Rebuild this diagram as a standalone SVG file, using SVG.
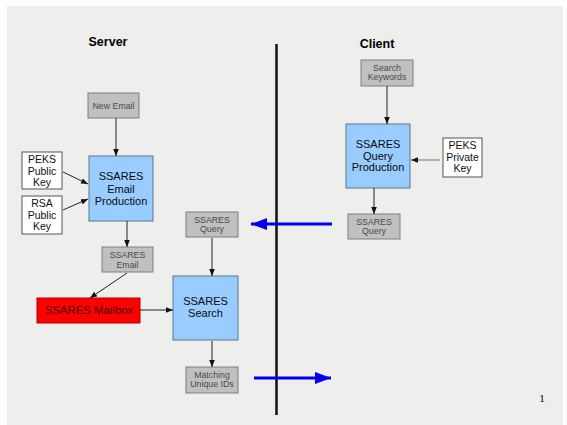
<svg xmlns="http://www.w3.org/2000/svg" width="567" height="425" viewBox="0 0 567 425">
  <defs>
    <marker id="ah" viewBox="0 0 10 10" refX="10" refY="5" markerWidth="7" markerHeight="7" markerUnits="userSpaceOnUse" orient="auto">
      <path d="M0,1 L10,5 L0,9 z" fill="#111"/>
    </marker>
    <marker id="bh" viewBox="0 0 16 12" refX="16" refY="6" markerWidth="16" markerHeight="12" markerUnits="userSpaceOnUse" orient="auto">
      <path d="M0,0 L16,6 L0,12 z" fill="#0000ee"/>
    </marker>
    <style>
      .bg { fill: #eeeeec; }
      .gray { fill: #c0c0c0; stroke: #7f7f7f; stroke-width: 1; }
      .blue { fill: #99ccff; stroke: #5b7590; stroke-width: 1; }
      .white { fill: #ffffff; stroke: #555; stroke-width: 1; }
      .red { fill: #ff0000; stroke: #b00000; stroke-width: 1; }
      text { font-family: "Liberation Sans", Arial, sans-serif; text-anchor: middle; }
      .small { font-size: 8.8px; fill: #4a4a4a; }
      .mid { font-size: 10.5px; fill: #111; }
      .big { font-size: 11px; fill: #0a0a0a; }
      .head { font-size: 12.5px; font-weight: bold; fill: #000; }
      .conn { stroke: #222; stroke-width: 1; fill: none; marker-end: url(#ah); }
      .flow { stroke: #0000ee; stroke-width: 3; fill: none; marker-end: url(#bh); }
    </style>
  </defs>

  <rect class="bg" x="7" y="6" width="556" height="419"/>

  <text class="head" x="108" y="46">Server</text>
  <text class="head" x="377" y="48">Client</text>

  <!-- divider between server and client -->
  <line x1="276.5" y1="44" x2="276.5" y2="415" stroke="#111" stroke-width="2.5"/>

  <g id="new-email">
    <rect class="gray" x="88" y="93" width="51" height="25"/>
    <text class="small" x="113.5" y="108.5">New Email</text>
  </g>

  <g id="email-production">
    <rect class="blue" x="89" y="156" width="64" height="65"/>
    <text class="big" x="121" y="180">SSARES</text>
    <text class="big" x="121" y="192.5">Email</text>
    <text class="big" x="121" y="204.5">Production</text>
  </g>

  <g id="peks-public-key">
    <rect class="white" x="22" y="152" width="40" height="37"/>
    <text class="mid" x="42" y="163">PEKS</text>
    <text class="mid" x="42" y="175">Public</text>
    <text class="mid" x="42" y="186">Key</text>
  </g>

  <g id="rsa-public-key">
    <rect class="white" x="22" y="196" width="40" height="38"/>
    <text class="mid" x="42" y="207">RSA</text>
    <text class="mid" x="42" y="219">Public</text>
    <text class="mid" x="42" y="230">Key</text>
  </g>

  <g id="ssares-email">
    <rect class="gray" x="102" y="247" width="51" height="25"/>
    <text class="small" x="127.5" y="257.5">SSARES</text>
    <text class="small" x="127.5" y="267.5">Email</text>
  </g>

  <g id="ssares-mailbox">
    <rect class="red" x="37" y="298" width="103" height="25"/>
    <text x="89" y="314" style="font-size:11.4px; fill:#4a0000;">SSARES Mailbox</text>
  </g>

  <g id="server-query">
    <rect class="gray" x="186" y="212" width="52" height="25"/>
    <text class="small" x="212" y="222.5">SSARES</text>
    <text class="small" x="212" y="232">Query</text>
  </g>

  <g id="ssares-search">
    <rect class="blue" x="173" y="276" width="65" height="64"/>
    <text class="big" x="205.5" y="304.5">SSARES</text>
    <text class="big" x="205.5" y="316.5">Search</text>
  </g>

  <g id="matching-ids">
    <rect class="gray" x="186" y="367" width="52" height="26"/>
    <text class="small" x="212" y="377.5">Matching</text>
    <text class="small" x="212" y="386.5">Unique IDs</text>
  </g>

  <g id="search-keywords">
    <rect class="gray" x="361" y="60" width="52" height="26"/>
    <text class="small" x="387" y="71">Search</text>
    <text class="small" x="387" y="80">Keywords</text>
  </g>

  <g id="query-production">
    <rect class="blue" x="346" y="124" width="64" height="64"/>
    <text class="big" x="378" y="148">SSARES</text>
    <text class="big" x="378" y="159.5">Query</text>
    <text class="big" x="378" y="171">Production</text>
  </g>

  <g id="peks-private-key">
    <rect class="white" x="443" y="138" width="39" height="39"/>
    <text class="mid" x="462.5" y="149">PEKS</text>
    <text class="mid" x="462.5" y="160.5">Private</text>
    <text class="mid" x="462.5" y="171.5">Key</text>
  </g>

  <g id="client-query">
    <rect class="gray" x="348" y="214" width="52" height="25"/>
    <text class="small" x="374" y="224.5">SSARES</text>
    <text class="small" x="374" y="233.5">Query</text>
  </g>

  <text x="542" y="402" style="font-family:'Liberation Serif', serif; font-size:11px; fill:#000;">1</text>

  <g id="connectors">
    <line class="conn" x1="116" y1="118" x2="116" y2="156"/>
    <line class="conn" x1="63" y1="172" x2="88" y2="184"/>
    <line class="conn" x1="63" y1="210" x2="88" y2="199"/>
    <line class="conn" x1="127" y1="221" x2="127" y2="247"/>
    <line class="conn" x1="127" y1="273" x2="90" y2="298"/>
    <line class="conn" x1="140" y1="310" x2="173" y2="310"/>
    <line class="conn" x1="212" y1="238" x2="212" y2="276"/>
    <line class="conn" x1="212" y1="341" x2="212" y2="367"/>
    <line class="conn" x1="387" y1="86" x2="387" y2="124"/>
    <line class="conn" x1="440" y1="160" x2="411" y2="160" style="stroke:#777"/>
    <line class="conn" x1="374" y1="188" x2="374" y2="214"/>
    <line class="flow" x1="332" y1="224" x2="251" y2="224"/>
    <line class="flow" x1="254" y1="378" x2="331" y2="378"/>
  </g>
</svg>
